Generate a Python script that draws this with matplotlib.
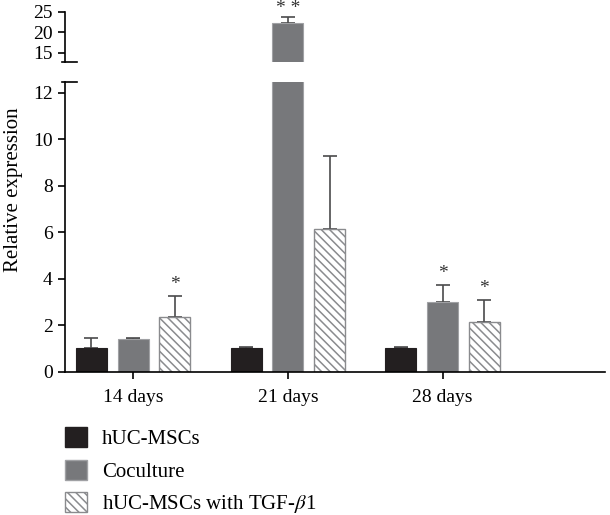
import numpy as np
import matplotlib.pyplot as plt
from matplotlib.patches import Patch

plt.rcParams['font.family'] = ['Liberation Serif', 'DejaVu Serif']
plt.rcParams['mathtext.fontset'] = 'stix'
plt.rcParams['hatch.linewidth'] = 1.1

groups = ['14 days', '21 days', '28 days']
series = ['hUC-MSCs', 'Coculture', 'hUC-MSCs with TGF-$\\beta$1']
msc = [1.05, 1.02, 1.02]
msc_err = [0.40, 0.06, 0.06]
cocult = [1.42, 22.2, 3.0]
cocult_err = [0.06, 1.5, 0.74]
tgf = [2.35, 6.15, 2.16]
tgf_err = [0.93, 3.15, 0.94]
stars = [('', '', '*'), ('', '* *', ''), ('', '*', '*')]

black = '#231f20'
gray = '#77787b'
hatch_gray = '#8a8b8e'
err_col = '#4a4a4c'

fig = plt.figure(figsize=(6.1, 5.15), dpi=100)
ax = fig.add_axes([0.1066, 0.2777, 0.8854, 0.5631])
ax_top = fig.add_axes([0.1066, 0.8796, 0.8854, 0.0971])

x = np.arange(len(groups))
off = 0.27
w = 0.2
vals = [msc, cocult, tgf]
errs = [msc_err, cocult_err, tgf_err]
for a in (ax, ax_top):
    for i, (v, e) in enumerate(zip(vals, errs)):
        pos = x + (i - 1) * off
        if i == 0:
            a.bar(pos, v, w, color=black, edgecolor=black, lw=0.8, zorder=2)
        elif i == 1:
            a.bar(pos, v, w, color=gray, edgecolor='#a0a1a4', lw=0.8, zorder=2)
        else:
            a.bar(pos, v, w, color='white', edgecolor=hatch_gray, hatch='\\\\\\\\',
                  lw=1.0, zorder=2)
        a.errorbar(pos, v, yerr=[np.zeros(len(v)), e], fmt='none', ecolor=err_col,
                   elinewidth=1.2, capsize=5, capthick=1.2, zorder=1)
    a.set_xlim(-0.44, 3.05)

ax.set_ylim(0, 12.47)
ax_top.set_ylim(12.8, 25)

for a in (ax, ax_top):
    for s in ['top', 'right']:
        a.spines[s].set_visible(False)
    a.spines['left'].set_linewidth(1.2)
    a.tick_params(axis='y', direction='out', length=5, width=1.2, labelsize=14, pad=4)
ax_top.spines['bottom'].set_visible(False)
ax_top.set_xticks([])
ax_top.set_yticks([15, 20, 25])
ax.set_yticks([0, 2, 4, 6, 8, 10, 12])
ax.spines['bottom'].set_linewidth(1.2)
ax.set_xticks(x)
ax.set_xticklabels(groups)
ax.tick_params(axis='x', direction='out', length=5, width=1.2, labelsize=14, pad=7)

# axis break marks
ax.plot([-0.006, 0.022], [1, 1], transform=ax.transAxes, color='black', lw=1.2, clip_on=False)
ax_top.plot([-0.006, 0.022], [0, 0], transform=ax_top.transAxes, color='black', lw=1.2, clip_on=False)

ax.set_ylabel('Relative expression', fontsize=15)
ax.yaxis.set_label_coords(-0.078, 0.628)

for gi, marks in enumerate(stars):
    for si, m in enumerate(marks):
        if not m:
            continue
        top = vals[si][gi] + errs[si][gi]
        a = ax_top if top > 12.5 else ax
        a.text(x[gi] + (si - 1) * off, top + (0.1 if a is ax_top else 0.12), m,
               ha='center', va='bottom', fontsize=14, color='#333333')

handles = [Patch(facecolor=black, edgecolor=black),
           Patch(facecolor=gray, edgecolor='#a0a1a4'),
           Patch(facecolor='white', edgecolor=hatch_gray, hatch='\\\\\\\\')]
fig.legend(handles, series, loc='lower left', bbox_to_anchor=(0.075, -0.037),
           frameon=False, fontsize=15, handlelength=1.1, handleheight=1.1,
           labelspacing=0.5, handletextpad=0.7)

fig.savefig('out.png', dpi=100)
